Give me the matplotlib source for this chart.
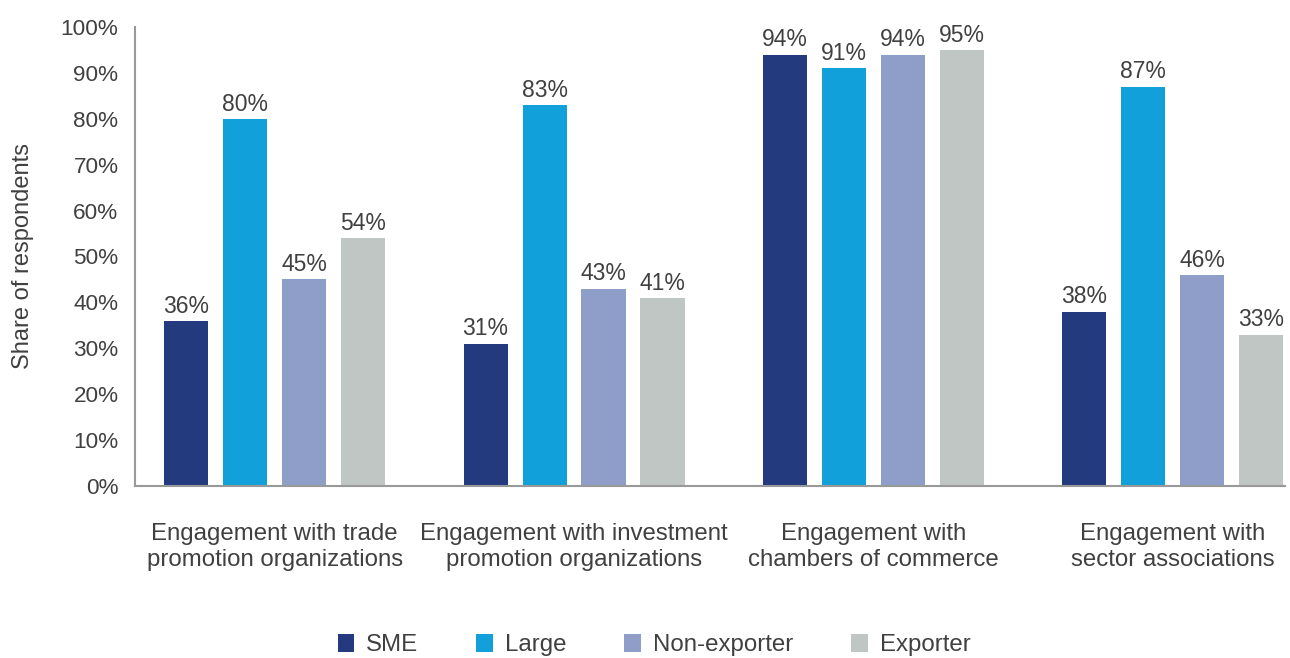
import matplotlib
matplotlib.use("Agg")
import matplotlib.pyplot as plt
import numpy as np

plt.rcParams['font.family'] = ['Liberation Sans', 'DejaVu Sans']

categories = [
    "Engagement with trade\npromotion organizations",
    "Engagement with investment\npromotion organizations",
    "Engagement with\nchambers of commerce",
    "Engagement with\nsector associations",
]
series_names = ["SME", "Large", "Non-exporter", "Exporter"]
sme = [36, 31, 94, 38]
large = [80, 83, 91, 87]
non_exporter = [45, 43, 94, 46]
exporter = [54, 41, 95, 33]
y_ticks = [0, 10, 20, 30, 40, 50, 60, 70, 80, 90, 100]

colors = ["#233a7e", "#12a0da", "#8e9ec8", "#bfc6c3"]
text_color = "#404040"
axis_color = "#999999"

fig = plt.figure(figsize=(12.9, 6.58), dpi=100)
ax = fig.add_axes([0.1047, 0.2614, 0.8913, 0.6976])

x = np.arange(len(categories))
step = 0.197
width = 0.147
offsets = (np.arange(4) - 1.5) * step

for i, (vals, name) in enumerate(zip([sme, large, non_exporter, exporter], series_names)):
    bars = ax.bar(x + offsets[i], vals, width=width, color=colors[i], label=name)
    for b, v in zip(bars, vals):
        ax.text(b.get_x() + b.get_width() / 2, v + 0.7, f"{v}%",
                ha="center", va="bottom", fontsize=16.5, color=text_color)

ax.set_xlim(-0.466, 3.374)
ax.set_ylim(0, 100)
ax.set_yticks(y_ticks)
ax.set_yticklabels([f"{t}%" for t in y_ticks], fontsize=16.2, color=text_color)
ax.set_xticks(x)
ax.set_xticklabels(categories, fontsize=17.3, color=text_color, linespacing=1.22)
ax.tick_params(axis="x", length=0, pad=27)
ax.tick_params(axis="y", length=0, pad=12)

for side in ["top", "right"]:
    ax.spines[side].set_visible(False)
for side in ["left", "bottom"]:
    ax.spines[side].set_color(axis_color)
    ax.spines[side].set_linewidth(1.5)

ax.set_ylabel("Share of respondents", fontsize=17, color=text_color)
ax.yaxis.set_label_coords(-0.088, 0.5)

leg = fig.legend(loc="lower center", bbox_to_anchor=(0.507, -0.03), ncol=4,
                 frameon=False, fontsize=17.3, handlelength=0.7, handleheight=0.75,
                 columnspacing=2.4, handletextpad=0.5)
for t in leg.get_texts():
    t.set_color(text_color)

fig.savefig("out.png", dpi=100, facecolor="white")
